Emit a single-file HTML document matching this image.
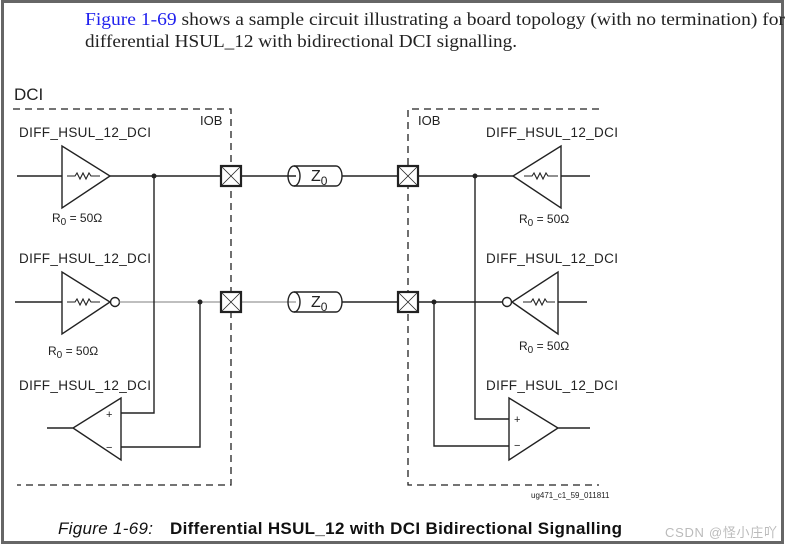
<!DOCTYPE html>
<html><head><meta charset="utf-8"><style>
body{margin:0;background:#fff}
svg{display:block}
.t{font-family:"Liberation Sans",sans-serif;fill:#222}
</style></head><body>
<svg width="785" height="546" viewBox="0 0 785 546" xmlns="http://www.w3.org/2000/svg">
<rect x="2.5" y="1.5" width="780" height="541" fill="#fff" stroke="#666" stroke-width="3"/>
<text x="85" y="25" font-family="Liberation Serif,serif" font-size="18" fill="#222" textLength="700" lengthAdjust="spacingAndGlyphs"><tspan fill="#2020ee">Figure 1-69</tspan> shows a sample circuit illustrating a board topology (with no termination) for</text>
<text x="85" y="47" font-family="Liberation Serif,serif" font-size="18" fill="#222" textLength="432" lengthAdjust="spacingAndGlyphs">differential HSUL_12 with bidirectional DCI signalling.</text>

<text class="t" x="14" y="100" font-size="17">DCI</text>
<g stroke="#222" stroke-width="1.3" fill="none" stroke-dasharray="7,5">
<path d="M13 109H231V485H17"/>
<path d="M599 109H408V485H599"/>
</g>
<text class="t" x="200" y="125" font-size="13">IOB</text>
<text class="t" x="418" y="125" font-size="13">IOB</text>

<g class="t" font-size="13.5">
<text x="19" y="137" textLength="132">DIFF_HSUL_12_DCI</text>
<text x="19" y="263" textLength="132">DIFF_HSUL_12_DCI</text>
<text x="19" y="390" textLength="132">DIFF_HSUL_12_DCI</text>
<text x="486" y="137" textLength="132">DIFF_HSUL_12_DCI</text>
<text x="486" y="263" textLength="132">DIFF_HSUL_12_DCI</text>
<text x="486" y="390" textLength="132">DIFF_HSUL_12_DCI</text>
</g>
<g class="t" font-size="12">
<text x="52" y="222">R<tspan font-size="10" dy="3">0</tspan><tspan dy="-3"> = 50Ω</tspan></text>
<text x="48" y="355">R<tspan font-size="10" dy="3">0</tspan><tspan dy="-3"> = 50Ω</tspan></text>
<text x="519" y="223">R<tspan font-size="10" dy="3">0</tspan><tspan dy="-3"> = 50Ω</tspan></text>
<text x="519" y="350">R<tspan font-size="10" dy="3">0</tspan><tspan dy="-3"> = 50Ω</tspan></text>
</g>

<g stroke="#222" stroke-width="1.4" fill="none">
<path d="M17 176H62M62 146V208L110 176Z"/>
<path d="M67 176H75l2-3 3 6 3-6 3 6 3-6 2 3H100" stroke-width="1.1"/>
<path d="M110 176H221M241 176H296M342 176H398M418 176H513"/>
<path d="M15 302H62M62 272V334L110 302Z"/>
<path d="M67 302H75l2-3 3 6 3-6 3 6 3-6 2 3H100" stroke-width="1.1"/>
<circle cx="115" cy="302" r="4.5"/>
<path d="M119.5 302H221M241 302H296" stroke="#aaa" stroke-width="1.6"/>
<path d="M342 302H398M418 302H502"/>
<path d="M121 398V460L73 428Z M47 428H73"/>
<path d="M121 413H154V176M121 447H200V302"/>
<path d="M561 146V208L513 176Z M561 176H590"/>
<path d="M524 176H532l2-3 3 6 3-6 3 6 3-6 2 3H558" stroke-width="1.1"/>
<circle cx="507" cy="302" r="4.5"/>
<path d="M558 272V334L512 302Z M558 302H587"/>
<path d="M523 302H531l2-3 3 6 3-6 3 6 3-6 2 3H555" stroke-width="1.1"/>
<path d="M509 398V460L558 428Z M558 428H590"/>
<path d="M509 419H475V176M509 446H434V302"/>
</g>
<g fill="#222">
<circle cx="154" cy="176" r="2.5"/><circle cx="200" cy="302" r="2.5"/>
<circle cx="475" cy="176" r="2.5"/><circle cx="434" cy="302" r="2.5"/>
</g>
<g stroke="#222" fill="#fff">
<rect x="221" y="166" width="20" height="20" stroke-width="2.2"/>
<rect x="221" y="292" width="20" height="20" stroke-width="2.2"/>
<rect x="398" y="166" width="20" height="20" stroke-width="2.2"/>
<rect x="398" y="292" width="20" height="20" stroke-width="2.2"/>
<path d="M221 166l20 20M241 166l-20 20M221 292l20 20M241 292l-20 20M398 166l20 20M418 166l-20 20M398 292l20 20M418 292l-20 20" stroke-width="0.8"/>
</g>
<g stroke="#222" stroke-width="1.4" fill="none">
<path d="M294 166H336A6 10 0 0 1 336 186H294"/>
<ellipse cx="294" cy="176" rx="6" ry="10"/>
<path d="M294 292H336A6 10 0 0 1 336 312H294"/>
<ellipse cx="294" cy="302" rx="6" ry="10"/>
</g>
<text class="t" x="311" y="181" font-size="16">Z<tspan font-size="12" dy="4">0</tspan></text>
<text class="t" x="311" y="307" font-size="16">Z<tspan font-size="12" dy="4">0</tspan></text>
<g class="t" font-size="11">
<text x="106" y="418">+</text><text x="106" y="451">−</text>
<text x="514" y="423">+</text><text x="514" y="449">−</text>
</g>
<text class="t" x="531" y="498" font-size="8">ug471_c1_59_011811</text>
<text x="58" y="534" font-family="Liberation Sans,sans-serif" font-size="17" font-style="italic" fill="#111" textLength="95">Figure 1-69:</text>
<text x="170" y="534" font-family="Liberation Sans,sans-serif" font-size="17" font-weight="bold" fill="#111" textLength="452">Differential HSUL_12 with DCI Bidirectional Signalling</text>
<text x="665" y="537" font-family="Liberation Sans,'Noto Sans CJK SC',sans-serif" font-size="13" fill="#bbb" textLength="112">CSDN @怪小庄吖</text>
</svg>
</body></html>
